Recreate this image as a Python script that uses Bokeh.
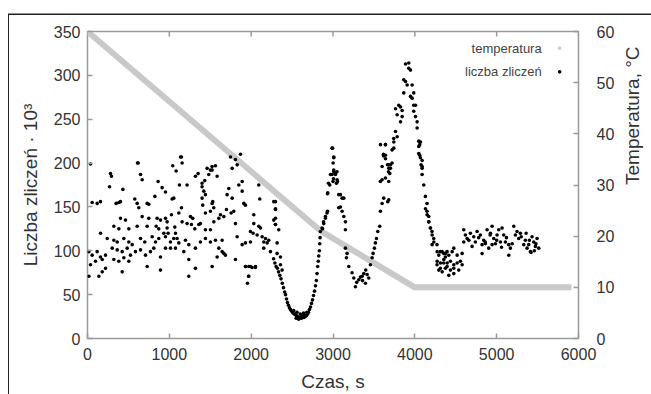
import math
from bokeh.plotting import figure
from bokeh.models import Range1d, LinearAxis, FixedTicker
from bokeh.core.properties import value
from bokeh.embed import file_html
from bokeh.resources import INLINE

# ---- data ----
x_ticks = [0, 1000, 2000, 3000, 4000, 5000, 6000]
y_ticks = [0, 50, 100, 150, 200, 250, 300, 350]
t_ticks = [0, 10, 20, 30, 40, 50, 60]

temp_time = [0, 2850, 4000, 5914]
temp_vals = [60, 21, 10, 10]

count_time = [
    37, 1148, 1156, 1042, 1083, 619, 281, 293, 648, 668, 269, 863, 432, 912, 953, 1124, 1217,
    1319, 1352, 1433, 1400, 1462, 1502, 1482, 1522, 1400, 1421, 1441, 823, 1034, 1054, 578, 607,
    729, 749, 350, 383, 403, 57, 118, 159, 1400, 1408, 627, 1530, 1543, 1441, 1502, 1148, 1116,
    1026, 668, 749, 851, 892, 953, 973, 403, 464, 322, 383, 505, 607, 729, 839, 871, 973, 1067,
    1075, 985, 1156, 1217, 1258, 1286, 1270, 1311, 1360, 1380, 1441, 1502, 159, 241, 322, 363,
    444, 505, 546, 648, 700, 790, 831, 871, 933, 953, 1014, 1054, 1095, 1116, 1197, 1238, 1319,
    1380, 1441, 1502, 17, 57, 118, 159, 180, 220, 302, 363, 424, 485, 525, 586, 648, 709, 769,
    810, 892, 953, 1014, 1075, 1177, 1238, 1319, 37, 98, 180, 220, 322, 383, 444, 505, 424, 729,
    892, 17, 139, 1238, 1136, 611,
    1747, 1808, 1869, 1829, 1768, 1564, 1584, 1523, 1890, 1849, 1890, 2093, 1727, 1706, 1768,
    1910, 1930, 2105, 2276, 2297, 1523, 1698, 1755, 1788, 1625, 1666, 2032, 2276, 2297, 1544,
    1605, 1808, 2032, 2093, 2114, 2337, 1991, 2024, 2073, 2134, 2175, 2215, 2154, 2195, 1829,
    1564, 1645, 1930, 1890, 1991, 2317, 1605, 1645, 1686, 1666, 2154, 2236, 2317, 2358, 1808,
    1584, 1930, 1971, 2012, 2052, 2358, 2378, 1971, 1523, 1955, 1968, 1931, 1992, 2053,
    2297, 2297, 2297, 2297,
    2274, 2290, 2305, 2320, 2335, 2350, 2365, 2380, 2395, 2410, 2420, 2432, 2444, 2456, 2468,
    2480, 2495, 2510, 2525, 2540, 2555, 2570, 2585, 2600, 2615, 2630, 2645, 2660, 2675, 2690,
    2700, 2712, 2725, 2737, 2750, 2762, 2774, 2786, 2797, 2805, 2813, 2820, 2826, 2833,
    2560, 2600, 2640, 2580, 2620, 2520, 2680, 2550, 2610, 2650,
    2838, 2842, 2846, 2866, 2872, 2884, 2887, 2908, 2907, 2927, 2933, 2933, 2936, 2945, 2960,
    2969, 2989, 2994, 3000, 3006, 3009, 3029, 3049, 3055, 2989, 3009,
    3010, 3002, 3010, 3030, 3050, 3042, 3070, 3070, 3091, 3111, 3132, 3091, 3111, 3132, 3152,
    3152, 3152, 3172, 3164, 3193, 3233, 3254, 3274, 3315, 3356, 3376, 3417, 3437, 3396, 3290,
    3335, 3360, 3400,
    3457, 3478, 3490, 3506, 3518, 3531, 3547, 3571, 3579, 3600, 3620, 3579, 3600, 3641, 3681,
    3694, 3600, 3620, 3641, 3702, 3722, 3681, 3641, 3722, 3742, 3681, 3669, 3580, 3617, 3666,
    3678,
    3926, 3926, 3947, 3886, 3865, 3886, 3906, 3967, 3865, 3947, 3987, 3967, 3987, 4008, 3804,
    3825, 3764, 3845, 3784, 3845, 3825, 3987, 4008, 4028, 4028, 3764, 3784, 3743, 3743, 3641,
    3621, 3641, 3702, 3682, 4069, 4048, 4060, 4089, 4089,
    4048, 4060, 4048, 4068, 4076, 4089, 4089, 4109, 4129, 4149, 4149, 4170, 4170, 4190, 4210,
    4231, 4130, 4150, 4171, 4191, 4211, 4232, 4211,
    4271, 4312, 4353, 4373, 4394, 4271, 4312, 4353, 4394,
    4273, 4293, 4334, 4374, 4415, 4456, 4476, 4517, 4578, 4273, 4313, 4354, 4395, 4435, 4476,
    4517, 4557, 4578, 4293, 4334, 4374, 4435, 4476, 4537, 4415, 4476,
    4598, 4618, 4598, 4639, 4679, 4720, 4740, 4761, 4801, 4822, 4842, 4883, 4924, 4944, 4964,
    5005, 5025, 5066, 5086, 5046, 5107, 5148, 5148, 5168, 4822, 4862, 4903, 4944, 4985, 5209,
    5249, 5290, 5229, 5269, 5331, 5371, 5412, 5453, 5473, 5514, 5494, 5432, 5351, 5392,
    4660, 4700, 4780, 4860, 4920, 5000, 5060, 5120, 5190, 5300, 5360, 5420, 5480, 5460, 5400,
]
counts = [
    199, 207, 200, 197, 191, 200, 188, 185, 187, 181, 173, 179, 170, 172, 167, 175, 175,
    185, 188, 180, 177, 194, 192, 187, 196, 173, 168, 164, 162, 159, 160, 159, 154,
    154, 153, 154, 155, 156, 155, 154, 156, 160, 152, 149, 156, 149, 143, 145, 149, 143,
    141, 139, 137, 137, 135, 137, 133, 137, 135, 128, 125, 125, 128, 128, 128, 125, 126, 127,
    120, 120, 133, 131, 139, 137, 130, 125, 130, 131, 124, 124, 120, 114, 112, 110,
    114, 110, 107, 114, 110, 116, 110, 114, 120, 116, 110, 114, 114, 109, 112, 107, 103,
    110, 114, 110, 99, 95, 99, 93, 90, 95, 103, 101, 99, 103, 95, 99, 101, 95, 99,
    103, 93, 103, 103, 103, 99, 90, 80, 84, 88, 76, 80, 90, 88, 92, 88, 76, 82,
    78, 71, 71, 71, 207, 200,
    207, 204, 210, 198, 194, 197, 185, 192, 179, 175, 168, 175, 171, 164, 160,
    154, 152, 159, 156, 147, 154, 147, 143, 145, 141, 139, 141, 135, 130, 133,
    137, 131, 131, 128, 126, 124, 122, 120, 118, 116, 114, 112, 110, 109, 116,
    112, 112, 109, 107, 110, 109, 103, 99, 95, 97, 103, 99, 97, 93, 90,
    93, 82, 82, 81, 81, 84, 78, 71, 82, 63, 71, 82, 82, 82,
    148, 156, 137, 130,
    91, 86, 82, 80, 76, 72, 68, 63, 58, 53, 50, 45, 41, 38, 35,
    33, 31, 29, 28, 27, 26, 25, 24, 24, 23, 24, 24, 25, 26, 28,
    30, 33, 36, 40, 44, 49, 54, 60, 66, 74, 82, 88, 94, 100,
    30, 28, 29, 22, 27, 32, 30, 23, 25, 27,
    108, 115, 122, 126, 125, 133, 131, 139, 137, 143, 165, 145, 166, 177, 175,
    187, 187, 217, 179, 182, 192, 188, 190, 179, 217, 207,
    206, 200, 190, 187, 181, 177, 164, 149, 164, 160, 160, 150, 145, 139, 133,
    124, 103, 97, 92, 82, 75, 69, 59, 67, 71, 74, 73, 69, 63, 64,
    70, 66, 78,
    84, 92, 97, 103, 109, 114, 122, 128, 145, 154, 160, 179, 181, 183, 179,
    188, 196, 208, 209, 194, 200, 198, 221, 215, 228, 158, 156, 221, 210, 198,
    190,
    314, 308, 306, 313, 295, 293, 289, 289, 280, 276, 280, 274, 266, 266, 266,
    264, 262, 260, 255, 253, 247, 259, 253, 247, 240, 236, 230, 224, 217, 221,
    209, 205, 198, 194, 224, 219, 209, 203, 196,
    225, 221, 211, 206, 198, 194, 187, 175, 162, 154, 145, 139, 133, 126, 122,
    114, 148, 141, 133, 126, 118, 110, 107,
    107, 99, 97, 93, 99, 84, 80, 86, 82,
    99, 95, 99, 97, 95, 99, 103, 95, 97, 88, 86, 90, 86, 88, 84,
    86, 88, 84, 78, 76, 80, 78, 80, 78, 72, 74,
    124, 118, 110, 114, 120, 116, 110, 122, 118, 107, 112, 124, 120, 128, 114,
    118, 124, 126, 118, 110, 110, 107, 95, 103, 97, 108, 103, 107, 108, 128,
    122, 120, 118, 114, 107, 103, 99, 110, 105, 103, 114, 116, 112, 107,
    112, 105, 115, 110, 118, 112, 104, 115, 108, 116, 120, 98, 108, 100, 112,
]

# ---- figure ----
FONT = "Liberation Sans"
GRAY = "#9a9a9a"
TXT = "#333333"
Y_MAX = 350

p = figure(
    output_backend="svg", toolbar_location=None,
    frame_width=491, frame_height=307,
    min_border_left=78, min_border_right=68, min_border_top=16, min_border_bottom=52,
    x_range=Range1d(0, 6000), y_range=Range1d(0, Y_MAX),
    x_axis_label="Czas, s", y_axis_label="Liczba zliczeń · 10³",
)
# outer frame of the picture: top and left edges
p.styles = {"margin-left": "8px", "margin-top": "14.5px",
            "border-left": "1.5px solid #222222",
            "box-shadow": "0px -1.5px 0px 0px #222222"}
p.extra_y_ranges = {"temp": Range1d(0, 60)}
p.grid.visible = False
p.outline_line_color = GRAY
p.outline_line_width = 1.5
p.background_fill_color = "white"
p.border_fill_color = "white"

def style_axis(ax, ticks, standoff):
    ax.ticker = FixedTicker(ticks=ticks)
    ax.axis_line_color = None
    ax.major_tick_in = 5
    ax.major_tick_out = 0
    ax.major_tick_line_color = GRAY
    ax.major_tick_line_width = 1.5
    ax.minor_tick_line_color = None
    ax.major_label_text_font = FONT
    ax.major_label_text_font_size = "16px"
    ax.major_label_text_color = TXT
    ax.major_label_standoff = standoff
    ax.axis_label_text_font = FONT
    ax.axis_label_text_font_size = "19px"
    ax.axis_label_text_font_style = "normal"
    ax.axis_label_text_color = TXT

style_axis(p.xaxis[0], x_ticks, 9)
p.xaxis[0].axis_label_standoff = 8
style_axis(p.yaxis[0], y_ticks, 7)
p.yaxis[0].axis_label_standoff = 10

right = LinearAxis(y_range_name="temp", axis_label="Temperatura, °C")
style_axis(right, t_ticks, 18)
right.axis_label_standoff = 15
right.axis_label_orientation = math.pi / 2
p.add_layout(right, "right")

# mirrored tick marks along the top edge of the frame
tick_len = 5 * Y_MAX / 307
p.segment(x0=x_ticks, y0=[Y_MAX] * len(x_ticks), x1=x_ticks,
          y1=[Y_MAX - tick_len] * len(x_ticks), line_color=GRAY, line_width=1.5)

p.line(temp_time, temp_vals, y_range_name="temp", line_color="#c9c9c9", line_width=6)
p.scatter(count_time, counts, size=3.6, color="black", line_color=None)

# legend (text right-aligned, marker on the right)
leg_text_x = 5550
leg_mark_x = 5770
leg_y = [331, 304]
leg_labels = ["temperatura", "liczba zliczeń"]
p.text(x=[leg_text_x] * 2, y=leg_y, text=leg_labels, text_align="right",
       text_baseline="middle", text_font=value(FONT), text_font_size="13px",
       text_color="#444444")
p.scatter([leg_mark_x], [leg_y[0]], size=3.6, color="#cccccc", line_color=None)
p.scatter([leg_mark_x], [leg_y[1]], size=3.6, color="black", line_color=None)

open("out.html", "w").write(file_html(p, INLINE))
